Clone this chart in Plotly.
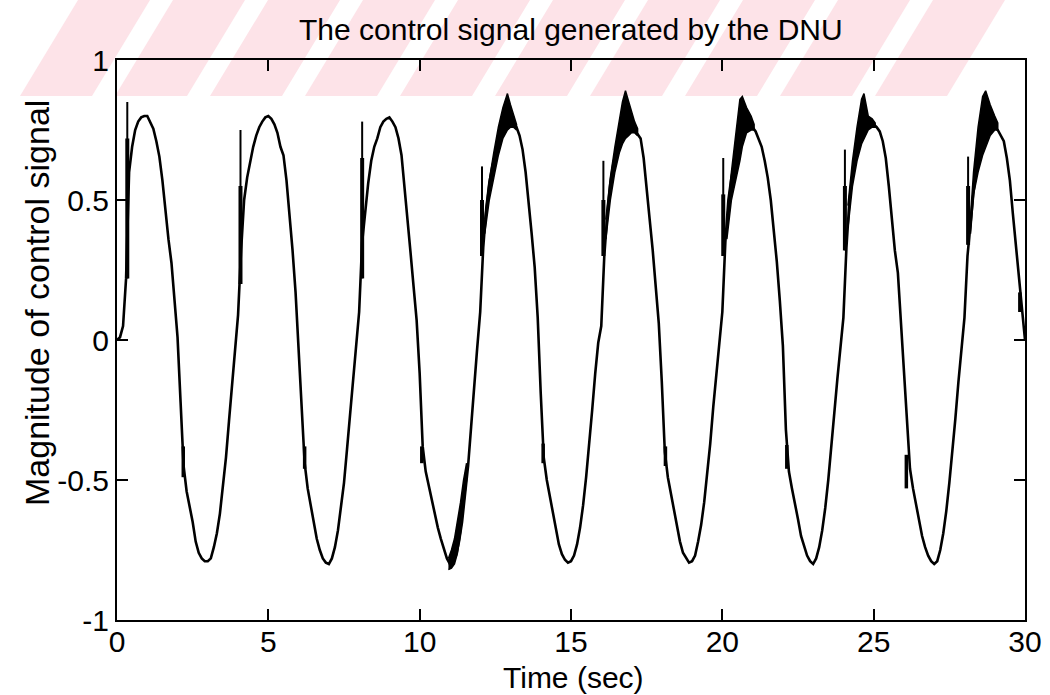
import numpy as np
import plotly.graph_objects as go

# ---------------- data ----------------
# sampled control signal, 0.1 s steps, one list per 4-second cycle
signal_0_4 = [0.00, 0.01, 0.05, 0.22, 0.60, 0.69, 0.75, 0.78, 0.795, 0.80,
              0.80, 0.78, 0.755, 0.71, 0.655, 0.57, 0.46, 0.36, 0.275, 0.15,
              0.01, -0.22, -0.45, -0.54, -0.59, -0.65, -0.72, -0.76, -0.78, -0.79,
              -0.79, -0.78, -0.74, -0.69, -0.62, -0.52, -0.42, -0.29, -0.16, -0.04]
signal_4_8 = [0.09, 0.32, 0.50, 0.58, 0.64, 0.69, 0.73, 0.76, 0.78, 0.795,
              0.80, 0.79, 0.77, 0.74, 0.69, 0.66, 0.57, 0.45, 0.32, 0.17,
              -0.02, -0.24, -0.44, -0.53, -0.59, -0.65, -0.71, -0.75, -0.78, -0.795,
              -0.80, -0.78, -0.74, -0.68, -0.60, -0.51, -0.39, -0.26, -0.14, -0.03]
signal_8_12 = [0.10, 0.35, 0.46, 0.56, 0.64, 0.69, 0.72, 0.76, 0.78, 0.79,
               0.795, 0.78, 0.76, 0.72, 0.66, 0.55, 0.44, 0.31, 0.19, 0.07,
               -0.12, -0.38, -0.47, -0.52, -0.58, -0.62, -0.67, -0.71, -0.75, -0.78,
               -0.80, -0.795, -0.77, -0.72, -0.65, -0.56, -0.45, -0.31, -0.16, -0.03]
signal_12_16 = [0.10, 0.33, 0.47, 0.56, 0.62, 0.67, 0.71, 0.74, 0.76, 0.77,
                0.775, 0.77, 0.76, 0.73, 0.68, 0.60, 0.50, 0.38, 0.26, 0.08,
                -0.19, -0.42, -0.50, -0.56, -0.62, -0.68, -0.73, -0.765, -0.785, -0.795,
                -0.79, -0.77, -0.73, -0.67, -0.59, -0.49, -0.38, -0.25, -0.12, -0.01]
signal_16_20 = [0.05, 0.30, 0.45, 0.56, 0.63, 0.68, 0.71, 0.72, 0.73, 0.74,
                0.745, 0.745, 0.735, 0.72, 0.65, 0.55, 0.43, 0.32, 0.19, 0.06,
                -0.15, -0.40, -0.49, -0.55, -0.61, -0.67, -0.72, -0.76, -0.78, -0.795,
                -0.79, -0.77, -0.72, -0.66, -0.58, -0.48, -0.37, -0.24, -0.12, 0.00]
signal_20_24 = [0.10, 0.35, 0.50, 0.58, 0.64, 0.69, 0.73, 0.75, 0.76, 0.76,
                0.76, 0.745, 0.72, 0.69, 0.64, 0.58, 0.50, 0.40, 0.28, 0.14,
                -0.02, -0.32, -0.47, -0.53, -0.58, -0.64, -0.70, -0.74, -0.77, -0.79,
                -0.80, -0.78, -0.74, -0.68, -0.60, -0.50, -0.39, -0.26, -0.14, -0.03]
signal_24_28 = [0.08, 0.33, 0.50, 0.59, 0.65, 0.69, 0.72, 0.74, 0.76, 0.77,
                0.77, 0.76, 0.745, 0.71, 0.65, 0.55, 0.43, 0.32, 0.24, 0.06,
                -0.12, -0.32, -0.46, -0.53, -0.59, -0.65, -0.70, -0.74, -0.77, -0.79,
                -0.80, -0.79, -0.75, -0.69, -0.61, -0.51, -0.40, -0.28, -0.15, -0.03]
signal_28_30 = [0.08, 0.30, 0.42, 0.53, 0.61, 0.66, 0.70, 0.73, 0.75, 0.76,
                0.76, 0.75, 0.73, 0.71, 0.65, 0.57, 0.45, 0.33, 0.21, 0.10,
                0.00]

# sharp spikes at the rising zero crossings
spike_t = [0.34, 4.08, 8.10, 12.06, 16.07, 20.03, 24.05, 28.12]
spike_top = [0.85, 0.75, 0.78, 0.62, 0.64, 0.65, 0.68, 0.655]
spike_dense_top = [0.72, 0.55, 0.65, 0.50, 0.50, 0.52, 0.55, 0.55]
spike_bottom = [0.22, 0.20, 0.22, 0.30, 0.30, 0.30, 0.32, 0.34]

# short glitches on the falling branches
glitch_t = [2.19, 6.20, 10.07, 14.08, 18.12, 22.13, 26.08, 29.83]
glitch_top = [-0.38, -0.38, -0.38, -0.37, -0.38, -0.375, -0.41, 0.17]
glitch_bottom = [-0.49, -0.46, -0.44, -0.44, -0.45, -0.46, -0.53, 0.10]

# chattering (dense noise) envelopes
band11_t = [10.95, 11.05, 11.15, 11.25, 11.35, 11.45, 11.55]
band11_lo = [-0.82, -0.815, -0.80, -0.76, -0.69, -0.60, -0.50]
band11_hi = [-0.78, -0.75, -0.71, -0.65, -0.58, -0.50, -0.44]

band13_t = [12.15, 12.30, 12.45, 12.60, 12.75, 12.90, 13.00, 13.10, 13.20]
band13_lo = [0.38, 0.50, 0.58, 0.66, 0.72, 0.75, 0.76, 0.76, 0.75]
band13_hi = [0.43, 0.57, 0.67, 0.76, 0.83, 0.88, 0.84, 0.80, 0.77]

band17_t = [16.15, 16.30, 16.45, 16.60, 16.70, 16.80, 16.90, 17.00, 17.10, 17.20]
band17_lo = [0.36, 0.50, 0.60, 0.67, 0.70, 0.72, 0.73, 0.74, 0.74, 0.73]
band17_hi = [0.43, 0.58, 0.69, 0.79, 0.85, 0.89, 0.85, 0.81, 0.78, 0.755]

band21_t = [20.15, 20.30, 20.45, 20.58, 20.66, 20.80, 20.95, 21.05]
band21_lo = [0.36, 0.50, 0.57, 0.64, 0.69, 0.74, 0.75, 0.75]
band21_hi = [0.43, 0.60, 0.74, 0.86, 0.87, 0.83, 0.80, 0.77]

band25_t = [24.15, 24.30, 24.45, 24.60, 24.68, 24.82, 24.95, 25.05]
band25_lo = [0.40, 0.55, 0.64, 0.70, 0.72, 0.75, 0.76, 0.76]
band25_hi = [0.48, 0.64, 0.76, 0.86, 0.88, 0.80, 0.79, 0.775]

band29_t = [28.20, 28.30, 28.45, 28.60, 28.70, 28.85, 29.00, 29.10]
band29_lo = [0.38, 0.52, 0.60, 0.66, 0.69, 0.73, 0.75, 0.75]
band29_hi = [0.44, 0.60, 0.76, 0.87, 0.89, 0.84, 0.80, 0.775]

x_ticks = [0, 5, 10, 15, 20, 25, 30]
y_ticks = [-1, -0.5, 0, 0.5, 1]
y_tick_labels = ["-1", "-0.5", "0", "0.5", "1"]

# ---------------- assemble ----------------
time = np.round(np.arange(0, 30.0001, 0.1), 1)
signal = (signal_0_4 + signal_4_8 + signal_8_12 + signal_12_16 +
          signal_16_20 + signal_20_24 + signal_24_28 + signal_28_30)

FONT = "Liberation Sans, Arial, Helvetica, sans-serif"
fig = go.Figure()

bands = [(band11_t, band11_lo, band11_hi), (band13_t, band13_lo, band13_hi),
         (band17_t, band17_lo, band17_hi), (band21_t, band21_lo, band21_hi),
         (band25_t, band25_lo, band25_hi), (band29_t, band29_lo, band29_hi)]
for bt, blo, bhi in bands:
    fig.add_trace(go.Scatter(x=list(bt) + list(bt)[::-1], y=list(bhi) + list(blo)[::-1],
                             fill="toself", fillcolor="black", mode="lines",
                             line=dict(color="black", width=1.5), hoverinfo="skip",
                             showlegend=False))

fig.add_trace(go.Scatter(x=time, y=signal, mode="lines",
                         line=dict(color="black", width=2.6), showlegend=False))

def segs(ts, a, b):
    xs, ys = [], []
    for t, lo, hi in zip(ts, a, b):
        xs += [t, t, None]
        ys += [lo, hi, None]
    return xs, ys

sx, sy = segs(spike_t, spike_bottom, spike_top)
fig.add_trace(go.Scatter(x=sx, y=sy, mode="lines", line=dict(color="black", width=2),
                         showlegend=False))
dx, dy = segs(spike_t, spike_bottom, spike_dense_top)
fig.add_trace(go.Scatter(x=dx, y=dy, mode="lines", line=dict(color="black", width=4),
                         showlegend=False))
gx, gy = segs(glitch_t, glitch_bottom, glitch_top)
fig.add_trace(go.Scatter(x=gx, y=gy, mode="lines", line=dict(color="black", width=3.5),
                         showlegend=False))

# ---------------- watermark (decoration) ----------------
L, R, T, B = 117, 1025, 60, 620
def px(x):
    return (x - L) / (R - L)
def py(y):
    return (B - y) / (B - T)

shapes = []
stripe_starts = [20, 115, 210, 305, 400, 495, 590, 685, 780, 875]
for x0 in stripe_starts:
    xb0, xb1 = x0, x0 + 72
    xt0, xt1 = x0 + 58, x0 + 130
    path = (f"M {px(xb0)} {py(96)} L {px(xb1)} {py(96)} "
            f"L {px(xt1)} {py(0)} L {px(xt0)} {py(0)} Z")
    shapes.append(dict(type="path", path=path, xref="paper", yref="paper",
                       fillcolor="#fde3e8", line=dict(width=0), layer="below"))

axis_common = dict(showline=True, linecolor="black", linewidth=2, mirror="ticks",
                   ticks="inside", ticklen=11, tickwidth=1.6, tickcolor="black",
                   showgrid=False, zeroline=False, automargin=False,
                   tickfont=dict(family=FONT, size=30, color="black"))

fig.update_layout(
    width=1050, height=695,
    margin=dict(l=L, r=1050 - R, t=T, b=695 - B),
    paper_bgcolor="white", plot_bgcolor="rgba(0,0,0,0)",
    font=dict(family=FONT, color="black"),
    shapes=shapes,
    xaxis=dict(range=[0, 30], tickvals=x_ticks, ticklabelstandoff=-6, **axis_common),
    yaxis=dict(range=[-1, 1], tickvals=y_ticks, ticktext=y_tick_labels, **axis_common),
    annotations=[
        dict(text="The control signal generated by the DNU", x=0.5, y=py(30),
             xref="paper", yref="paper", showarrow=False, xanchor="center",
             yanchor="middle", font=dict(family=FONT, size=30, color="black")),
        dict(text="Time (sec)", x=px(573), y=py(695), xref="paper", yref="paper",
             showarrow=False, xanchor="center", yanchor="bottom", borderpad=0,
             font=dict(family=FONT, size=30, color="black")),
        dict(text="Magnitude of control signal", x=px(37), y=py(303), xref="paper",
             yref="paper", showarrow=False, textangle=-90, xanchor="center",
             yanchor="middle", font=dict(family=FONT, size=34, color="black")),
    ],
)

fig.write_html("out.html", config={"displayModeBar": False},
               post_script="document.body.style.margin='0px';document.body.style.padding='0px';")
